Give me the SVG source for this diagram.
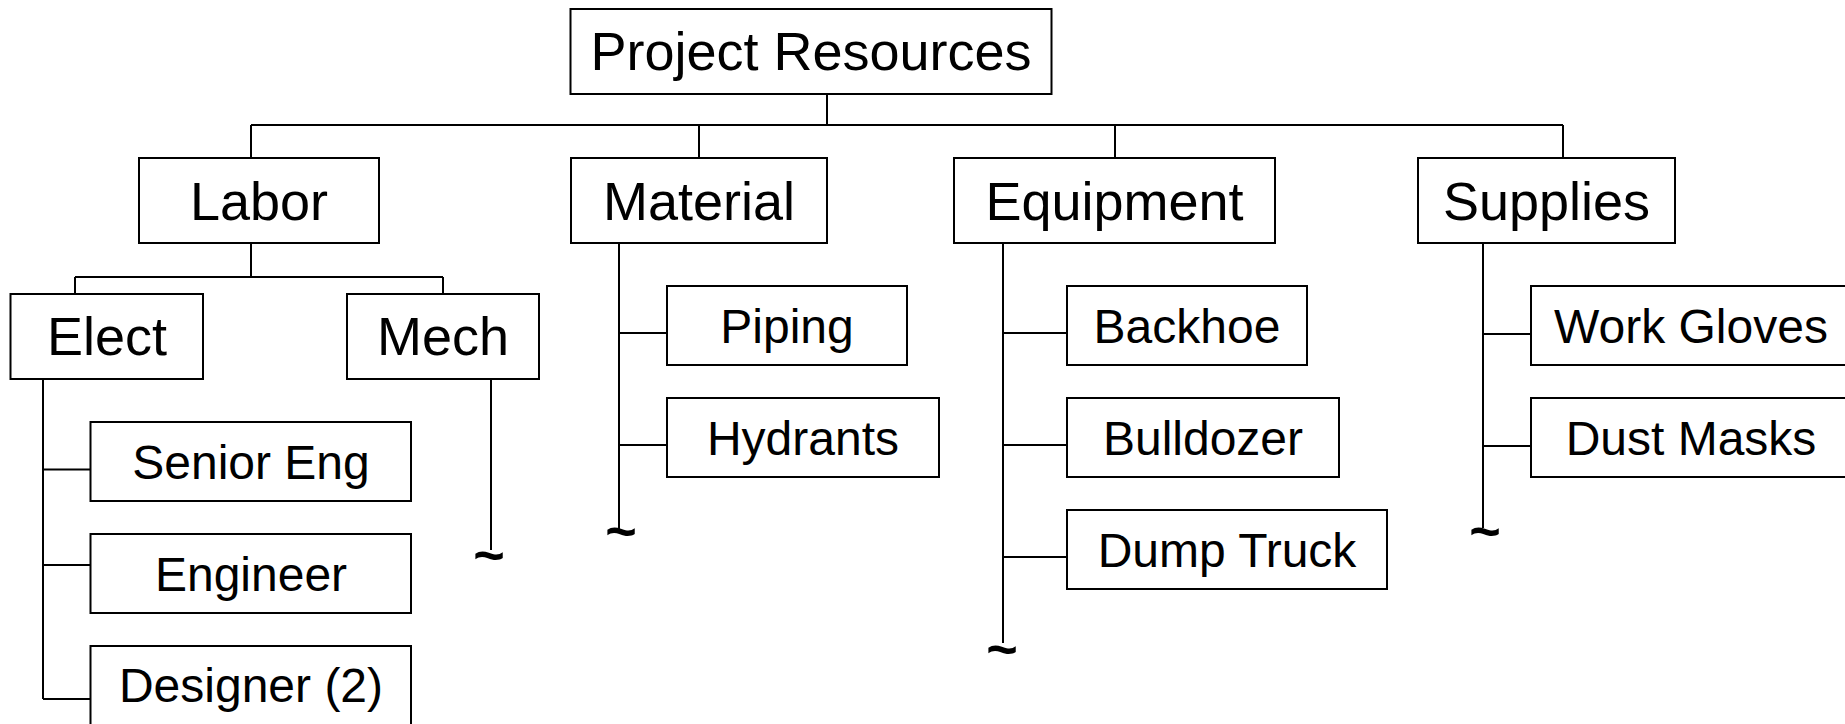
<svg xmlns="http://www.w3.org/2000/svg" width="1845" height="724" viewBox="0 0 1845 724">
<style>
.box{fill:#fff;stroke:#000;stroke-width:2}
.ln{fill:none;stroke:#000;stroke-width:2}
.t1{font-family:"Liberation Sans",Arial,sans-serif;font-size:54px;text-anchor:middle;fill:#000}
.t3{font-family:"Liberation Sans",Arial,sans-serif;font-size:48px;text-anchor:middle;fill:#000}
.tl{font-family:"Liberation Sans",Arial,sans-serif;font-size:54px;font-weight:bold;text-anchor:middle;fill:#000}
</style>
<rect width="1845" height="724" fill="#fff"/>
<g id="connectors">
<path class="ln" d="M827 94V125M251 125H1563M251 125V158M699 125V158M1115 125V158M1563 125V158"/>
<path class="ln" d="M251 243V277M75 277H443M75 277V294M443 277V294"/>
<path class="ln" d="M43 379V699M43 469.5H90.5M43 565H90.5M43 699H90.5"/>
<path class="ln" d="M491 374V550"/>
<path class="ln" d="M619 243V530M619 333H667M619 445H667"/>
<path class="ln" d="M1003 243V643M1003 333H1067M1003 445H1067M1003 557H1067"/>
<path class="ln" d="M1483 243V528M1483 334H1531M1483 446H1531"/>
<text class="tl" x="489" y="574">~</text>
<text class="tl" x="621" y="550">~</text>
<text class="tl" x="1002" y="668">~</text>
<text class="tl" x="1485" y="550">~</text>
</g>
<g id="project-resources"><rect class="box" x="570.5" y="9" width="481" height="85"/><text class="t1" x="811" y="69.5">Project Resources</text></g>
<g id="labor"><rect class="box" x="139" y="158" width="240" height="85"/><text class="t1" x="259" y="220">Labor</text></g>
<g id="material"><rect class="box" x="571" y="158" width="256" height="85"/><text class="t1" x="699" y="220">Material</text></g>
<g id="equipment"><rect class="box" x="954" y="158" width="321" height="85"/><text class="t1" x="1114.5" y="220">Equipment</text></g>
<g id="supplies"><rect class="box" x="1418" y="158" width="257" height="85"/><text class="t1" x="1546.5" y="220">Supplies</text></g>
<g id="elect"><rect class="box" x="10.5" y="294" width="192.5" height="85"/><text class="t1" x="107" y="355">Elect</text></g>
<g id="mech"><rect class="box" x="347" y="294" width="192" height="85"/><text class="t1" x="443" y="355">Mech</text></g>
<g id="senior-eng"><rect class="box" x="90.5" y="422" width="320.5" height="79"/><text class="t3" x="251" y="478.7">Senior Eng</text></g>
<g id="engineer"><rect class="box" x="90.5" y="534" width="320.5" height="79"/><text class="t3" x="251" y="590.7">Engineer</text></g>
<g id="designer"><rect class="box" x="90.5" y="646" width="320.5" height="90"/><text class="t3" x="251" y="702">Designer (2)</text></g>
<g id="piping"><rect class="box" x="667" y="286" width="240" height="79"/><text class="t3" x="787" y="342.7">Piping</text></g>
<g id="hydrants"><rect class="box" x="667" y="398" width="272" height="79"/><text class="t3" x="803" y="454.7">Hydrants</text></g>
<g id="backhoe"><rect class="box" x="1067" y="286" width="240" height="79"/><text class="t3" x="1187" y="342.7">Backhoe</text></g>
<g id="bulldozer"><rect class="box" x="1067" y="398" width="272" height="79"/><text class="t3" x="1203" y="454.7">Bulldozer</text></g>
<g id="dump-truck"><rect class="box" x="1067" y="510" width="320" height="79"/><text class="t3" x="1227" y="566.7">Dump Truck</text></g>
<g id="work-gloves"><rect class="box" x="1531" y="286" width="320" height="79"/><text class="t3" x="1691" y="342.7">Work Gloves</text></g>
<g id="dust-masks"><rect class="box" x="1531" y="398" width="320" height="79"/><text class="t3" x="1691" y="454.7">Dust Masks</text></g>
</svg>
